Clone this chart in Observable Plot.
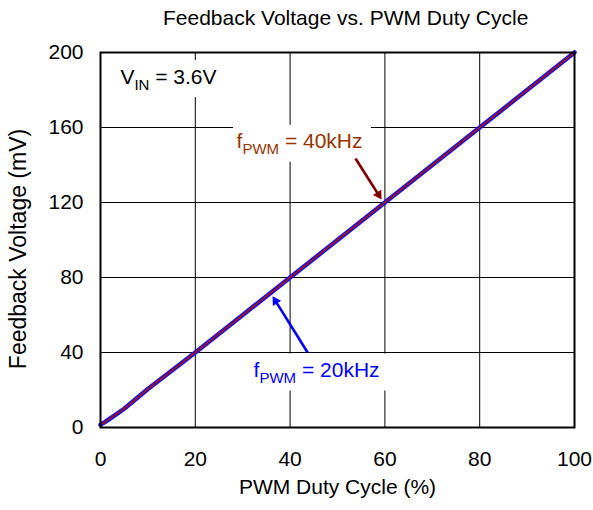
<!DOCTYPE html>
<html><head><meta charset="utf-8">
<script src="https://cdn.jsdelivr.net/npm/d3@7"></script>
<script src="https://cdn.jsdelivr.net/npm/@observablehq/plot@0.6"></script>
<style>
body{margin:0;background:#fff;font-family:"Liberation Sans",Arial,sans-serif;}
#wrap{position:relative;width:593px;height:510px;}
#title{position:absolute;left:0;top:7px;width:593px;height:22px;font-size:21px;line-height:21px;color:#000;}
#title span{position:absolute;left:163px;white-space:nowrap;}
#chart{position:absolute;left:0;top:34px;}
</style></head>
<body>
<div id="wrap">
<div id="title"><span>Feedback Voltage vs. PWM Duty Cycle</span></div>
<div id="chart"></div>
</div>
<script>
const duty = [0, 1, 3, 5, 10, 20, 30, 40, 50, 60, 70, 80, 90, 100];
const fb20k = [1.5, 3, 6.5, 10, 20.5, 40, 60, 80, 100, 120, 140, 160, 180, 200];
const fb40k = [1.5, 3, 6.5, 10, 20.5, 40, 60, 80, 100, 120, 140, 160, 180, 200];
const xTicks = [0, 20, 40, 60, 80, 100];
const yTicks = [0, 40, 80, 120, 160, 200];
const labels = [
  {x: 4.2, y: 187, text: "V_IN_ = 3.6V", color: "#000000"},
  {x: 28.7, y: 152.5, text: "f_PWM_ = 40kHz", color: "#993300"},
  {x: 32.3, y: 30.5, text: "f_PWM_ = 20kHz", color: "#0000ff"}
];
const arrows = [
  {x1: 53.8, y1: 143.5, x2: 59.3, y2: 121.6, color: "#800000"},
  {x1: 43.7, y1: 40, x2: 36.3, y2: 70, color: "#0000ff"}
];

const d20 = duty.map((d, i) => ({x: d, y: fb20k[i]}));
const d40 = duty.map((d, i) => ({x: d, y: fb40k[i]}));

function build(extra) {
  return Plot.plot({
    width: 593,
    height: 476,
    marginTop: 18,
    marginBottom: 83,
    marginLeft: 100,
    marginRight: 19,
    style: {fontFamily: "Liberation Sans, Arial, sans-serif", fontSize: "21px", color: "#000", background: "#fff"},
    x: {domain: [0, 100]},
    y: {domain: [0, 200]},
    marks: [
      Plot.gridX(xTicks, {stroke: "#000", strokeOpacity: 1, strokeWidth: 1}),
      Plot.gridY(yTicks, {stroke: "#000", strokeOpacity: 1, strokeWidth: 1}),
      Plot.axisX(xTicks, {tickSize: 0, tickPadding: 24, label: null, fontSize: 21}),
      Plot.axisY(yTicks, {tickSize: 0, tickPadding: 17, label: null, fontSize: 21}),
      Plot.text(["PWM Duty Cycle (%)"], {frameAnchor: "bottom", dy: 66, fontSize: 21}),
      Plot.text(["Feedback Voltage (mV)"], {frameAnchor: "left", textAnchor: "middle", rotate: -90, dx: -82, dy: 9, fontSize: 23}),
      Plot.text(labels, {x: "x", y: "y", text: "text", fill: "color", textAnchor: "start", fontSize: 21, className: "sublabel"}),
      Plot.line(d20, {x: "x", y: "y", stroke: "#1010ff", strokeWidth: 4.5}),
      Plot.line(d40, {x: "x", y: "y", stroke: "#a01010", strokeWidth: 1.8}),
      ...extra,
      Plot.frame({stroke: "#000", strokeWidth: 2})
    ]
  });
}

// first pass to get scales, then compute arrowhead geometry in screen space
const probe = build([]);
const sx = probe.scale("x"), sy = probe.scale("y");
const R = 3.6;
const tipDist = 2 * Math.sqrt(Math.PI * R * R / (3 * Math.sqrt(3)));
const heads = arrows.map(a => {
  const px1 = sx.apply(a.x1), py1 = sy.apply(a.y1), px2 = sx.apply(a.x2), py2 = sy.apply(a.y2);
  const L = Math.hypot(px2 - px1, py2 - py1);
  const ux = (px2 - px1) / L, uy = (py2 - py1) / L;
  const angle = Math.atan2(ux, -uy) * 180 / Math.PI;
  return {
    x1: a.x1, y1: a.y1,
    lx: sx.invert(px2 - ux * (tipDist + 1)), ly: sy.invert(py2 - uy * (tipDist + 1)),
    cx: sx.invert(px2 - ux * tipDist), cy: sy.invert(py2 - uy * tipDist),
    angle, color: a.color
  };
});

const chart = build([
  Plot.link(heads, {x1: "x1", y1: "y1", x2: "lx", y2: "ly", stroke: "color", strokeWidth: 2.6}),
  Plot.dot(heads, {x: "cx", y: "cy", symbol: "triangle", r: R, fill: "color", stroke: "none", rotate: "angle"})
]);
document.getElementById("chart").appendChild(chart);

// subscripts + white boxes behind annotation labels
const ns = "http://www.w3.org/2000/svg";
const group = chart.querySelector(".sublabel");
chart.querySelectorAll(".sublabel text").forEach(t => {
  const parts = t.textContent.split("_");
  if (parts.length < 3) return;
  t.textContent = "";
  const a = document.createElementNS(ns, "tspan"); a.textContent = parts[0];
  const b = document.createElementNS(ns, "tspan"); b.textContent = parts[1];
  b.setAttribute("font-size", "15px"); b.setAttribute("dy", "6");
  const c = document.createElementNS(ns, "tspan"); c.textContent = parts[2];
  c.setAttribute("dy", "-6");
  t.append(a, b, c);
});
if (group) {
  const bg = document.createElementNS(ns, "g");
  chart.querySelectorAll(".sublabel text").forEach(t => {
    const bb = t.getBBox();
    const tr = t.getAttribute("transform") || "";
    const r = document.createElementNS(ns, "rect");
    r.setAttribute("x", bb.x - 3); r.setAttribute("y", bb.y - 4);
    r.setAttribute("width", bb.width + 12); r.setAttribute("height", bb.height + 9);
    r.setAttribute("fill", "white");
    if (tr) r.setAttribute("transform", tr);
    bg.appendChild(r);
  });
  group.parentNode.insertBefore(bg, group);
}
</script>
</body></html>
